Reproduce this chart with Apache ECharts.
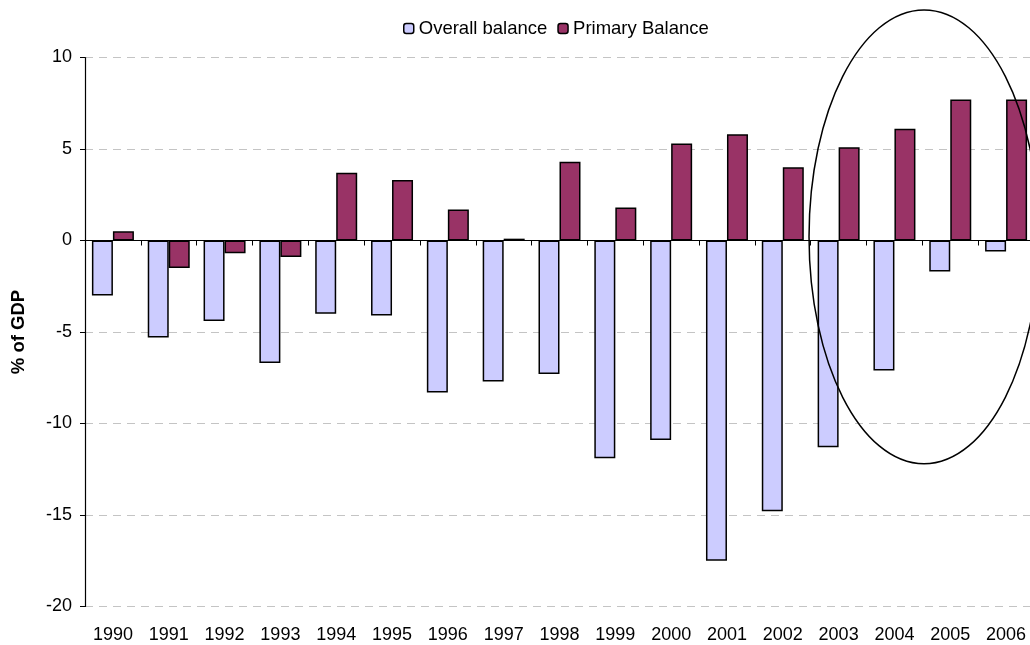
<!DOCTYPE html>
<html>
<head>
<meta charset="utf-8">
<script src="https://cdn.jsdelivr.net/npm/echarts@6/dist/echarts.min.js"></script>
<style>
  html, body { margin: 0; padding: 0; background: #fff; }
  #main { width: 1030px; height: 645px; }
</style>
</head>
<body>
<div id="main"></div>
<script>
// data
var years = ['1990', '1991', '1992', '1993', '1994', '1995', '1996', '1997', '1998',
             '1999', '2000', '2001', '2002', '2003', '2004', '2005', '2006'];
var overallBalance = [-3.0, -5.3, -4.4, -6.7, -4.0, -4.1, -8.3, -7.7, -7.3,
                      -11.9, -10.9, -17.5, -14.8, -11.3, -7.1, -1.7, -0.6];
var primaryBalance = [0.5, -1.5, -0.7, -0.9, 3.7, 3.3, 1.7, 0.1, 4.3,
                      1.8, 5.3, 5.8, 4.0, 5.1, 6.1, 7.7, 7.7];
var yTicks = [-20, -15, -10, -5, 0, 5, 10];

var myChart = echarts.init(document.getElementById('main'));

var font = 'Arial, "Liberation Sans", sans-serif';

var option = {
    animation: false,
    textStyle: { fontFamily: font },
    legend: {
        top: 14,
        left: 398,
        itemWidth: 10,
        itemHeight: 10,
        itemGap: 10,
        textStyle: { fontSize: 18.5, color: '#000', fontFamily: font },
        data: [
            { name: 'Overall balance', itemStyle: { borderColor: '#000', borderWidth: 1.5 } },
            { name: 'Primary Balance', itemStyle: { borderColor: '#000', borderWidth: 1.5 } }
        ]
    },
    grid: { left: 85, top: 57.5, width: 949, height: 549, outerBoundsMode: 'none' },
    xAxis: [
        {
            // axis line on zero with ticks, no labels
            type: 'category',
            data: years,
            axisLine: { onZero: true, lineStyle: { color: '#000', width: 1.2 } },
            axisTick: { show: true, length: 5, lineStyle: { color: '#000' } },
            axisLabel: { show: false }
        },
        {
            // labels at bottom
            type: 'category',
            data: years,
            position: 'bottom',
            axisLine: { show: false, onZero: false },
            axisTick: { show: false },
            axisLabel: { margin: 20, fontSize: 18, color: '#000', fontFamily: font }
        }
    ],
    yAxis: {
        type: 'value',
        min: yTicks[0],
        max: yTicks[yTicks.length - 1],
        interval: 5,
        name: '% of GDP',
        nameLocation: 'middle',
        nameGap: 57,
        nameTextStyle: { fontSize: 18.5, fontWeight: 'bold', color: '#000', fontFamily: font },
        axisLine: { show: true, lineStyle: { color: '#000', width: 1.2 } },
        axisTick: { show: true, length: 5, lineStyle: { color: '#000' } },
        axisLabel: { margin: 13, fontSize: 18, color: '#000', fontFamily: font },
        splitLine: { lineStyle: { color: '#c4c4c4', type: [8, 6], width: 1.2 } }
    },
    series: [
        {
            name: 'Overall balance',
            type: 'bar',
            data: overallBalance,
            barWidth: 21,
            barGap: '0%',
            itemStyle: { color: '#CCCCFF', borderColor: '#000', borderWidth: 1.5 }
        },
        {
            name: 'Primary Balance',
            type: 'bar',
            data: primaryBalance,
            barWidth: 21,
            barGap: '0%',
            itemStyle: { color: '#993366', borderColor: '#000', borderWidth: 1.5 }
        }
    ]
};

myChart.setOption(option);

// ellipse around 2003-2006, placed from the chart's own scales
var p04 = myChart.convertToPixel({ xAxisIndex: 0, yAxisIndex: 0 }, ['2004', 0.2]);
var p05 = myChart.convertToPixel({ xAxisIndex: 0, yAxisIndex: 0 }, ['2005', 0.2]);
var pTop = myChart.convertToPixel({ yAxisIndex: 0 }, 12.6);
var step = p05[0] - p04[0];
var cx = (p04[0] + p05[0]) / 2 + step * 0.03;
var cy = p04[1];

myChart.setOption({
    graphic: [{
        type: 'ellipse',
        silent: true,
        z: 100,
        shape: { cx: cx, cy: cy, rx: step * 2.06, ry: cy - pTop },
        style: { fill: 'none', stroke: '#000', lineWidth: 1.5 }
    }]
});
</script>
</body>
</html>
